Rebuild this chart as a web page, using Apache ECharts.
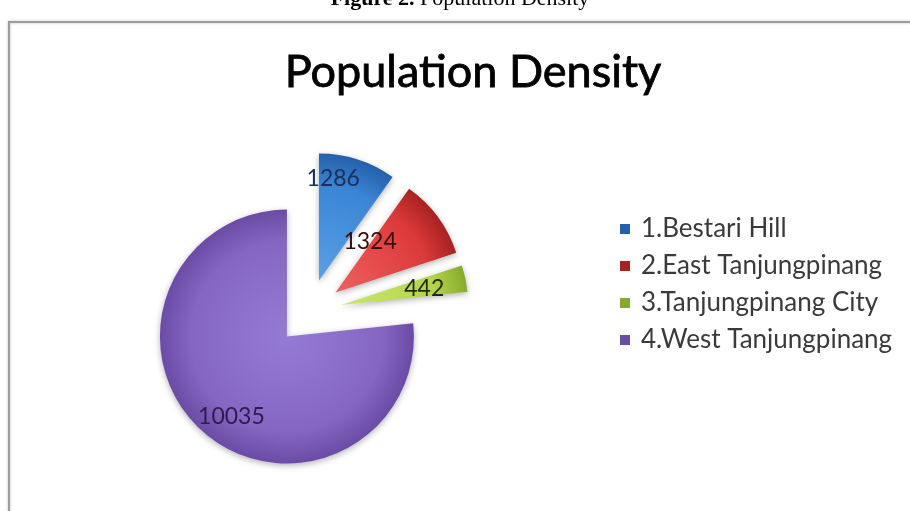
<!DOCTYPE html>
<html>
<head>
<meta charset="utf-8">
<script src="https://cdn.jsdelivr.net/npm/echarts@6/dist/echarts.min.js"></script>
<style>
html,body{margin:0;padding:0;background:#fff;}
#chart{width:910px;height:511px;}
</style>
</head>
<body>
<div id="chart"></div>
<script>
const categories = ['1.Bestari Hill', '2.East Tanjungpinang', '3.Tanjungpinang City', '4.West Tanjungpinang'];
const values = [1286, 1324, 442, 10035];
const sliceColors = [
  ['#5aa0e6', '#3a85d5', '#2560ab'],
  ['#ee6060', '#dd3a3a', '#a82222'],
  ['#cbe86a', '#b2d448', '#86aa2c'],
  ['#957ad4', '#8567c3', '#6a4ca6']
];
const labelColors = ['#1c2f5a', '#3a0c0c', '#1e2a06', '#2c1c4e'];
const labelShift = [[-6, -39], [-19, -11], [18, -3], [-11, 31]];

const cx = 309, cy = 312, R = 127;

const chart = echarts.init(document.getElementById('chart'), null, {renderer: 'canvas'});

const data = categories.map((name, i) => ({
  name: name,
  value: values[i],
  selected: true,
  itemStyle: {
    color: {
      type: 'radial', x: cx, y: cy, r: R, global: true,
      colorStops: [
        {offset: 0, color: sliceColors[i][0]},
        {offset: 0.75, color: sliceColors[i][1]},
        {offset: 1, color: sliceColors[i][2]}
      ]
    }
  },
  label: {color: labelColors[i]}
}));

chart.setOption({
  animation: false,
  backgroundColor: '#ffffff',
  title: {
    text: 'Population Density',
    left: 468,
    textAlign: 'center',
    top: 45,
    textStyle: {
      fontFamily: 'Lato',
      fontWeight: 'normal',
      fontSize: 45,
      color: '#000000',
      textBorderColor: '#000000',
      textBorderWidth: 0.8
    }
  },
  legend: {
    orient: 'vertical',
    left: 615,
    top: 211,
    itemWidth: 10,
    itemHeight: 10,
    itemGap: 11,
    icon: 'rect',
    selectedMode: false,
    data: categories,
    textStyle: {
      fontFamily: 'Lato',
      fontSize: 26,
      color: '#3a3a3a',
      padding: [0, 0, 0, 6]
    }
  },
  graphic: [
    {
      type: 'rect',
      shape: {x: 9, y: 22, width: 930, height: 520},
      style: {fill: 'none', stroke: '#9c9c9c', lineWidth: 2, shadowBlur: 3, shadowColor: 'rgba(0,0,0,0.25)'},
      silent: true,
      z: 0
    },
    {
      type: 'text',
      x: 460,
      y: 10,
      style: {
        text: '{b|Figure 2.} Population Density',
        align: 'center',
        verticalAlign: 'bottom',
        font: '22px "Liberation Serif"',
        fill: '#000',
        rich: {
          b: {fontFamily: 'Liberation Serif', fontWeight: 'bold', fontSize: 22, fill: '#000'}
        }
      },
      silent: true
    }
  ],
  series: [{
    type: 'pie',
    center: [cx, cy],
    radius: R,
    startAngle: 90,
    clockwise: true,
    selectedMode: 'multiple',
    selectedOffset: 33,
    avoidLabelOverlap: false,
    itemStyle: {
      borderWidth: 0,
      shadowBlur: 6,
      shadowOffsetY: 2,
      shadowColor: 'rgba(0,0,0,0.3)'
    },
    emphasis: {disabled: true},
    label: {
      show: true,
      position: 'inside',
      formatter: '{c}',
      fontFamily: 'Lato',
      fontSize: 23
    },
    labelLine: {show: false},
    labelLayout: function (p) {
      const s = labelShift[p.dataIndex];
      return {dx: s[0], dy: s[1]};
    },
    data: data
  }]
});
</script>
</body>
</html>
